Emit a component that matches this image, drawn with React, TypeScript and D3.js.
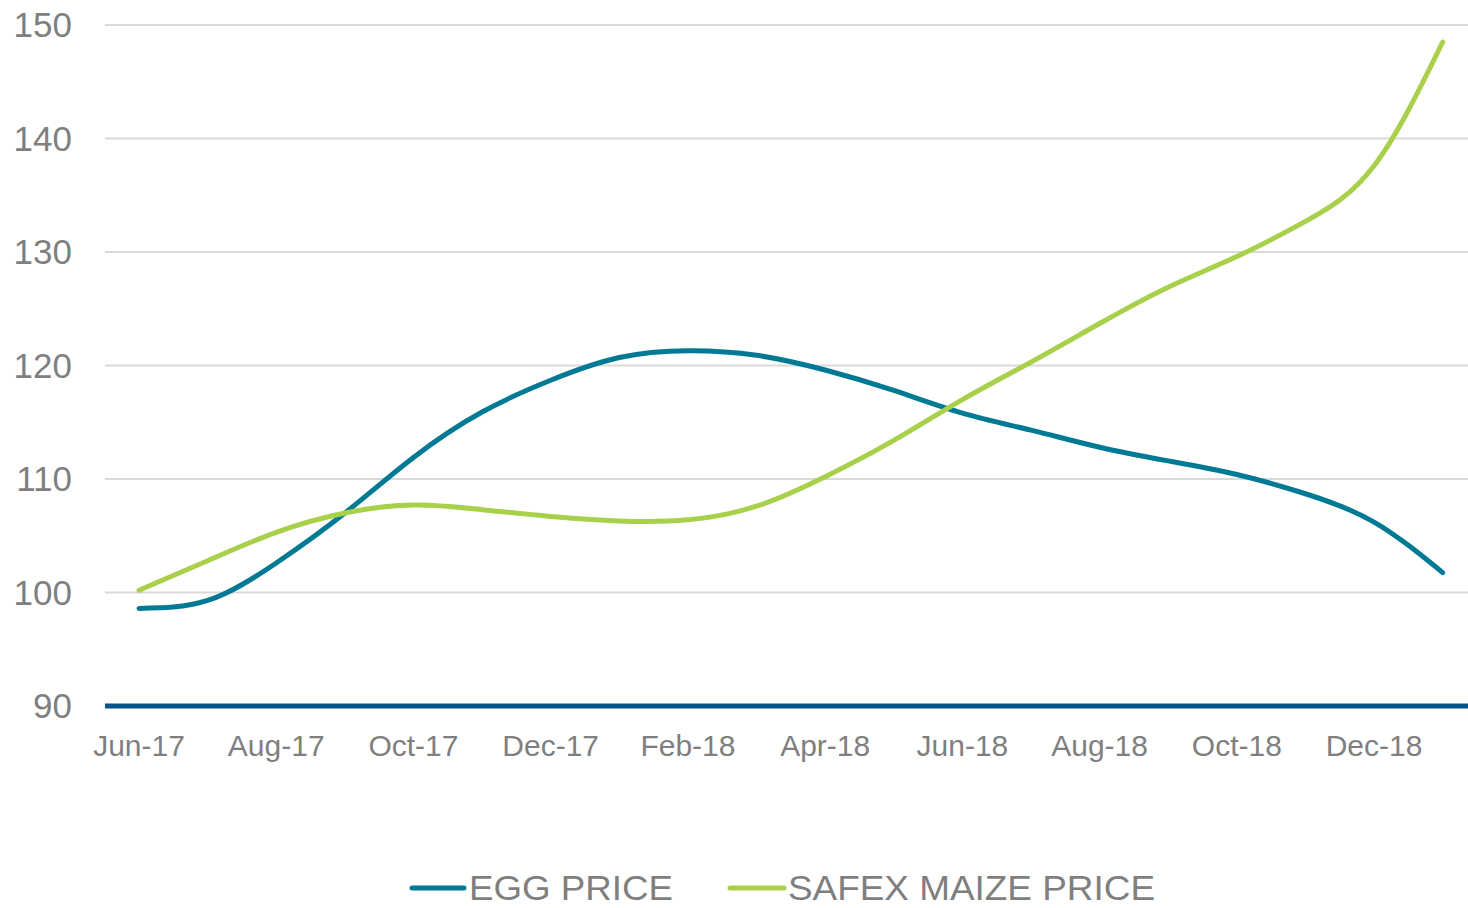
import React from 'react';
import * as d3 from 'd3';

// monthly categories Jun-17 .. Jan-19
const months = [
  'Jun-17', 'Jul-17', 'Aug-17', 'Sep-17', 'Oct-17', 'Nov-17', 'Dec-17',
  'Jan-18', 'Feb-18', 'Mar-18', 'Apr-18', 'May-18', 'Jun-18', 'Jul-18',
  'Aug-18', 'Sep-18', 'Oct-18', 'Nov-18', 'Dec-18', 'Jan-19',
];
const tickMonths = ['Jun-17', 'Aug-17', 'Oct-17', 'Dec-17', 'Feb-18', 'Apr-18', 'Jun-18', 'Aug-18', 'Oct-18', 'Dec-18'];

const eggPrice = [98.6, 99.3, 102.6, 107.0, 111.9, 115.9, 118.7, 120.7, 121.3, 120.9, 119.6, 117.8, 115.8, 114.3, 112.8, 111.6, 110.4, 108.7, 106.2, 101.75];
const maizePrice = [100.2, 102.8, 105.3, 107.0, 107.7, 107.3, 106.7, 106.3, 106.4, 107.6, 110.2, 113.4, 117.0, 120.3, 123.7, 126.9, 129.6, 132.7, 137.6, 148.5];

const yTicks = [90, 100, 110, 120, 130, 140, 150];

const W = 1468;
const H = 908;
const FONT = '"Liberation Sans", Arial, sans-serif';
const GREY = '#7f7f7f';
const EGG = '#007a94';
const MAIZE = '#a9d04a';

export default function App() {
  const x = d3.scaleBand<string>().domain(months).range([104.7, 1477]);
  const cx = (m: string) => (x(m) as number) + x.bandwidth() / 2;
  const y = d3.scaleLinear().domain([90, 150]).range([706, 25]);

  // smooth line through the monthly points
  const line = d3.line<number>()
    .x((_, i) => cx(months[i]))
    .y(d => y(d))
    .curve(d3.curveNatural);

  const series = [
    { name: 'EGG PRICE', values: eggPrice, color: EGG },
    { name: 'SAFEX MAIZE PRICE', values: maizePrice, color: MAIZE },
  ];

  return (
    <svg width={W} height={H} style={{ position: 'absolute', left: 0, top: 0, background: '#fff' }}>
      <rect width={W} height={H} fill="#fff" />
      {/* gridlines */}
      {yTicks.filter(t => t > 90).map(t => (
        <line key={t} x1={105} x2={W} y1={y(t)} y2={y(t)} stroke="#d9d9d9" strokeWidth={2} />
      ))}
      {/* y labels */}
      {yTicks.map(t => (
        <text key={t} x={72} y={y(t)} dy="0.35em" textAnchor="end" fontFamily={FONT} fontSize={35} fill={GREY}>
          {t}
        </text>
      ))}
      {/* lines */}
      {series.map(s => (
        <path key={s.name} d={line(s.values) || ''} fill="none" stroke={s.color} strokeWidth={5} strokeLinecap="round" />
      ))}
      {/* baseline */}
      <line x1={105} x2={W} y1={y(90)} y2={y(90)} stroke="#00558b" strokeWidth={5} />
      {/* x labels */}
      {tickMonths.map(m => (
        <text key={m} x={cx(m)} y={756} textAnchor="middle" fontFamily={FONT} fontSize={30} fill={GREY}>
          {m}
        </text>
      ))}
      {/* legend */}
      <line x1={412} x2={464} y1={888} y2={888} stroke={EGG} strokeWidth={5} strokeLinecap="round" />
      <text x={469} y={900} fontFamily={FONT} fontSize={35} fill={GREY} textLength={204} lengthAdjust="spacingAndGlyphs">
        EGG PRICE
      </text>
      <line x1={730} x2={784} y1={888} y2={888} stroke={MAIZE} strokeWidth={5} strokeLinecap="round" />
      <text x={788} y={900} fontFamily={FONT} fontSize={35} fill={GREY} textLength={367} lengthAdjust="spacingAndGlyphs">
        SAFEX MAIZE PRICE
      </text>
    </svg>
  );
}
